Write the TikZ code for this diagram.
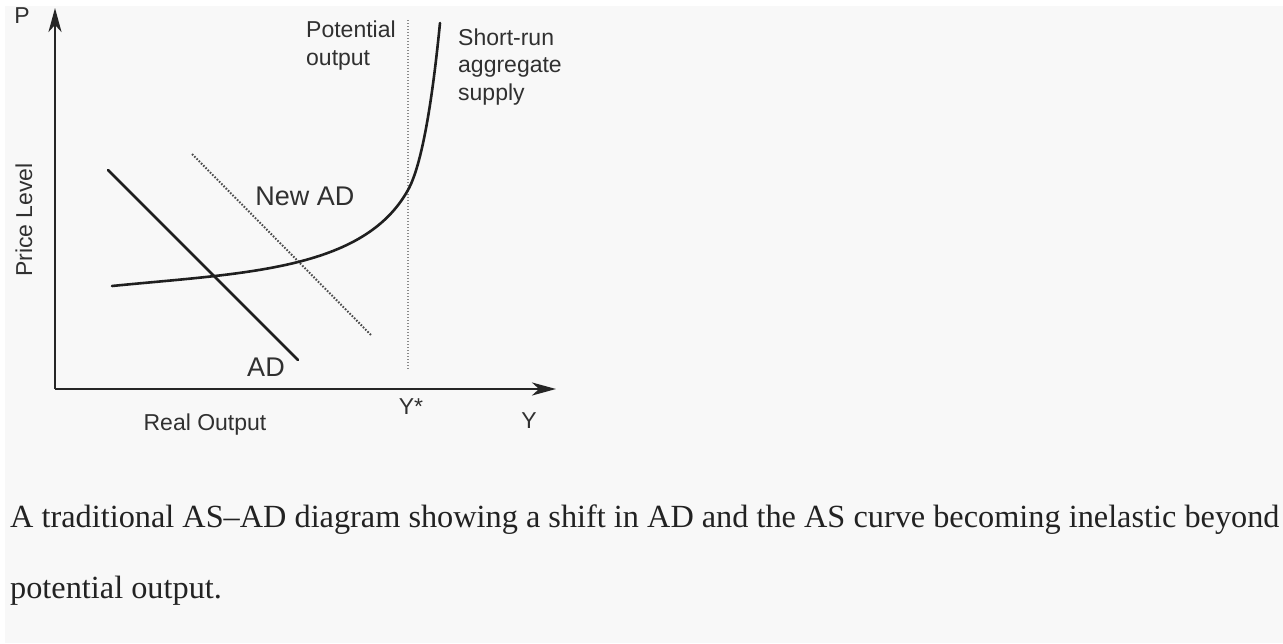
\documentclass[tikz,border=0pt]{standalone}
\usepackage{fontspec}
\setmainfont{Liberation Serif}
\newfontfamily\arialf{Liberation Sans}
\usetikzlibrary{arrows.meta}
\definecolor{bgc}{HTML}{F8F8F8}
\definecolor{txt}{HTML}{303030}
\definecolor{captc}{HTML}{222222}
\definecolor{dotc}{HTML}{8A8A8A}
\begin{document}
\begin{tikzpicture}[x=1pt,y=-1pt,
  axis/.style={line width=2.6pt, black!85, -{Stealth[length=24pt,width=13pt,inset=7pt]}},
  solidcurve/.style={line width=2.6pt, black!88, line cap=round},
  newad/.style={line width=2pt, black!70, dash pattern=on 1.6pt off 1.6pt},
  potline/.style={line width=1.3pt, dotc, dash pattern=on 1.4pt off 1.6pt},
  lab/.style={font=\arialf\fontsize{23pt}{28pt}\selectfont, text=txt, inner sep=0pt},
  biglab/.style={font=\arialf\fontsize{27pt}{32pt}\selectfont, text=txt, inner sep=0pt},
  capt/.style={font=\fontsize{32.3pt}{40pt}\selectfont, text=captc, inner sep=0pt, anchor=base west}
]
\useasboundingbox (0,0) rectangle (1283,643);
\fill[white] (0,0) rectangle (1283,643);
\fill[bgc] (5,6) rectangle (1283,643);

% axes
\coordinate (O) at (55,389);
\coordinate (Ptop) at (55,8);
\coordinate (Yend) at (556,389);
\draw[axis] (O) -- (Ptop);
\draw[axis] (O) -- (Yend);

% potential output line
\coordinate (pot1) at (408,20);
\coordinate (pot2) at (408,370);
\draw[potline] (pot1) -- (pot2);

% AD and New AD
\coordinate (ad1) at (108,170);
\coordinate (ad2) at (298,360);
\draw[solidcurve] (ad1) -- (ad2);
\coordinate (nad1) at (192,154);
\coordinate (nad2) at (371,335);
\draw[newad] (nad1) -- (nad2);

% short-run aggregate supply
\coordinate (as1) at (112,286);
\coordinate (asm) at (408,190);
\coordinate (as2) at (440,23);
\draw[solidcurve] (as1) .. controls (242,273) and (363,271) .. (asm)
                        .. controls (426,158) and (436,63) .. (as2);

% labels
\node[lab, anchor=base] (P) at (22,23) {P};
\node[lab, anchor=base, rotate=90] (price) at (32,220) {Price Level};
\node[lab, anchor=base] (realout) at (205,430) {Real Output};
\node[lab, anchor=base] (ystar) at (411,414) {Y*};
\node[lab, anchor=base] (Y) at (529,428) {Y};
\node[biglab, anchor=base] (ADl) at (266,376) {AD};
\node[biglab, anchor=base] (NADl) at (305,205) {New AD};
\node[lab, anchor=base west] (pot1l) at (306,37) {Potential};
\node[lab, anchor=base west] (pot2l) at (306,65) {output};
\node[lab, anchor=base west] (sr1) at (458,45) {Short-run};
\node[lab, anchor=base west] (sr2) at (458,72.5) {aggregate};
\node[lab, anchor=base west] (sr3) at (458,100) {supply};

% caption
\node[capt] (cap1) at (10,527) {A traditional AS–AD diagram showing a shift in AD and the AS curve becoming inelastic beyond};
\node[capt] (cap2) at (10,598) {potential output.};
\end{tikzpicture}
\end{document}
